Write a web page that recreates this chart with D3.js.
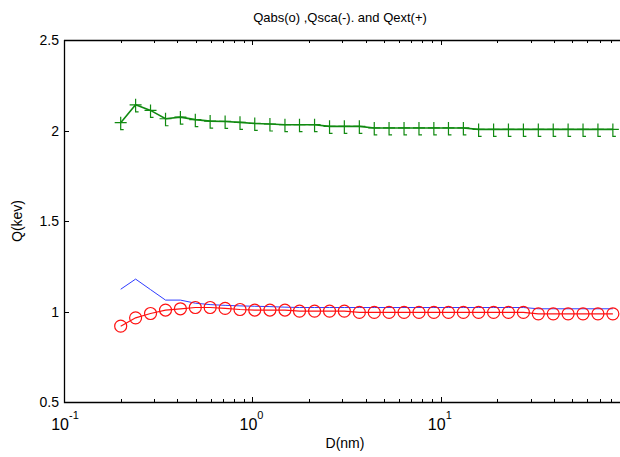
<!DOCTYPE html>
<html>
<head>
<meta charset="utf-8">
<script src="https://cdn.jsdelivr.net/npm/d3@7"></script>
<style>
  body { margin: 0; background: #fff; }
  svg { display: block; font-family: "Liberation Sans", Arial, sans-serif; }
</style>
</head>
<body>
<div id="chart"></div>
<script>
// diameters (nm)
const diam = [0.2, 0.24, 0.288, 0.346, 0.415, 0.498, 0.597, 0.717, 0.86, 1.03,
  1.24, 1.49, 1.78, 2.14, 2.57, 3.08, 3.70, 4.44, 5.32, 6.39,
  7.67, 9.20, 11.0, 13.2, 15.9, 19.1, 22.9, 27.5, 33.0, 39.6,
  47.5, 57.0, 68.4, 82.1];

const qabs = [0.919, 0.965, 0.989, 1.008, 1.015, 1.022, 1.022, 1.017, 1.011, 1.008,
  1.008, 1.008, 1.002, 1.002, 1.002, 1.002, 0.995, 0.995, 0.995, 0.995,
  0.995, 0.995, 0.995, 0.995, 0.995, 0.995, 0.995, 0.995, 0.987, 0.987,
  0.987, 0.987, 0.987, 0.987];

const qsca = [1.123, 1.179, 1.121, 1.063, 1.063, 1.046, 1.038, 1.034, 1.031, 1.029,
  1.027, 1.024, 1.022, 1.022, 1.022, 1.022, 1.022, 1.022, 1.022, 1.022,
  1.022, 1.022, 1.022, 1.022, 1.022, 1.022, 1.022, 1.022, 1.015, 1.015,
  1.015, 1.015, 1.015, 1.015];

const qext = [2.043, 2.142, 2.111, 2.065, 2.074, 2.060, 2.052, 2.050, 2.045, 2.039,
  2.036, 2.032, 2.032, 2.032, 2.023, 2.023, 2.023, 2.014, 2.014, 2.014,
  2.014, 2.014, 2.014, 2.014, 2.006, 2.006, 2.006, 2.006, 2.006, 2.006,
  2.006, 2.006, 2.006, 2.006];

const yTicks = [0.5, 1, 1.5, 2, 2.5];
const xDecades = [0.1, 1, 10];
const xDecadeExp = ['-1', '0', '1'];

const W = 620, H = 457;
const m = {l: 64, t: 40, r: 629, b: 402};

const svg = d3.select('#chart').append('svg')
  .attr('width', W).attr('height', H);

const x = d3.scaleLog().domain([0.1, 100]).range([m.l, m.r]);
const y = d3.scaleLinear().domain([0.5, 2.5]).range([m.b, m.t]);

// minor ticks for log axis
const minor = [];
[0.1, 1, 10].forEach(d => {
  for (let k = 2; k <= 9; k++) minor.push(d * k);
});

const tickG = svg.append('g').attr('stroke', '#000').attr('stroke-width', 1);
minor.concat(xDecades).forEach(v => {
  const px = Math.round(x(v)) + 0.5;
  const len = xDecades.includes(v) ? 5 : 3;
  tickG.append('line').attr('x1', px).attr('x2', px).attr('y1', m.b).attr('y2', m.b - len);
  tickG.append('line').attr('x1', px).attr('x2', px).attr('y1', m.t).attr('y2', m.t + len);
});
yTicks.forEach(v => {
  const py = Math.round(y(v)) + 0.5;
  tickG.append('line').attr('x1', m.l).attr('x2', m.l + 5).attr('y1', py).attr('y2', py);
});

// frame (left, bottom, top)
svg.append('path')
  .attr('d', `M${m.l + 0.5},${m.t} V${m.b + 0.5} H${W} M${m.l},${m.t + 0.5} H${W}`)
  .attr('fill', 'none').attr('stroke', '#000').attr('stroke-width', 1.3);

// y tick labels
svg.append('g').selectAll('text').data(yTicks).join('text')
  .attr('x', m.l - 5).attr('y', d => y(d) + 5)
  .attr('text-anchor', 'end').attr('font-size', 14)
  .text(d => d);

// x tick labels 10^n
const xl = svg.append('g').selectAll('g').data(xDecades).join('g')
  .attr('transform', d => `translate(${x(d)},0)`);
xl.append('text').attr('x', 5).attr('y', 430).attr('text-anchor', 'end')
  .attr('font-size', 16).text('10');
xl.append('text').attr('x', 5).attr('y', 419)
  .attr('font-size', 11).attr('text-anchor', 'start')
  .text((d, i) => xDecadeExp[i]);

// titles
svg.append('text').attr('x', 340).attr('y', 22).attr('text-anchor', 'middle')
  .attr('font-size', 13).text('Qabs(o) ,Qsca(-). and Qext(+)');
svg.append('text').attr('x', 345).attr('y', 448).attr('text-anchor', 'middle')
  .attr('font-size', 14).text('D(nm)');
svg.append('text').attr('transform', `translate(22,221) rotate(-90)`)
  .attr('text-anchor', 'middle').attr('font-size', 14).text('Q(kev)');

const plot = svg.append('g');
const line = vals => d3.line().x((d, i) => x(diam[i])).y(d => y(d))(vals);

plot.append('path').attr('d', line(qsca)).attr('fill', 'none')
  .attr('stroke', '#2f3cff').attr('stroke-width', 1);

plot.append('path').attr('d', line(qabs)).attr('fill', 'none')
  .attr('stroke', '#ff1010').attr('stroke-width', 1.2);
plot.append('g').selectAll('ellipse').data(qabs).join('ellipse')
  .attr('cx', (d, i) => x(diam[i])).attr('cy', d => y(d))
  .attr('rx', 6).attr('ry', 6)
  .attr('fill', 'none').attr('stroke', '#ff1010').attr('stroke-width', 1.2);

plot.append('path').attr('d', line(qext)).attr('fill', 'none')
  .attr('stroke', '#108a10').attr('stroke-width', 1.6);
plot.append('g').selectAll('path').data(qext).join('path')
  .attr('transform', (d, i) => `translate(${x(diam[i])},${y(d)})`)
  .attr('d', 'M-6,0H6M0,-6V7H3')
  .attr('fill', 'none').attr('stroke', '#108a10').attr('stroke-width', 1.2);
</script>
</body>
</html>
